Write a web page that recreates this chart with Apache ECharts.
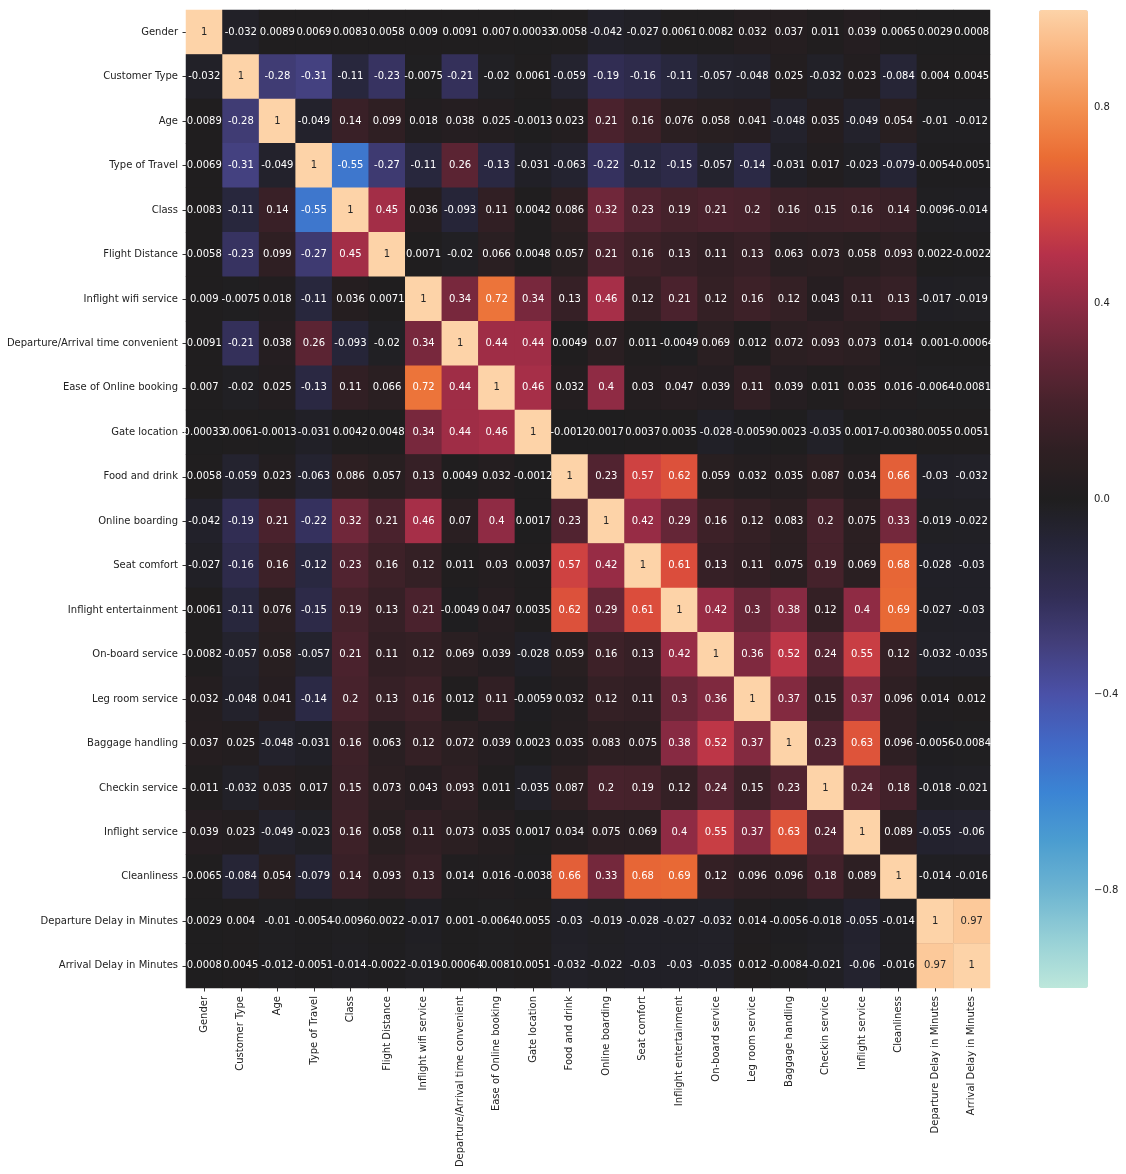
<!DOCTYPE html>
<html>
<head>
<meta charset="utf-8">
<script src="https://cdn.jsdelivr.net/npm/echarts@6/dist/echarts.min.js"></script>
<style>
  html, body { margin: 0; padding: 0; background: #fff; }
  #chart { width: 1126px; height: 1174px; }
</style>
</head>
<body>
<div id="chart"></div>
<script>
// features, same order on both axes
var features = ['Gender', 'Customer Type', 'Age', 'Type of Travel', 'Class', 'Flight Distance',
  'Inflight wifi service', 'Departure/Arrival time convenient', 'Ease of Online booking',
  'Gate location', 'Food and drink', 'Online boarding', 'Seat comfort', 'Inflight entertainment',
  'On-board service', 'Leg room service', 'Baggage handling', 'Checkin service',
  'Inflight service', 'Cleanliness', 'Departure Delay in Minutes', 'Arrival Delay in Minutes'];

// correlation matrix, one row per feature
var corr = [
  [1, -0.032, 0.0089, 0.0069, 0.0083, 0.0058, 0.009, 0.0091, 0.007, 0.00033, 0.0058, -0.042, -0.027, 0.0061, 0.0082, 0.032, 0.037, 0.011, 0.039, 0.0065, 0.0029, 0.0008],
  [-0.032, 1, -0.28, -0.31, -0.11, -0.23, -0.0075, -0.21, -0.02, 0.0061, -0.059, -0.19, -0.16, -0.11, -0.057, -0.048, 0.025, -0.032, 0.023, -0.084, 0.004, 0.0045],
  [0.0089, -0.28, 1, -0.049, 0.14, 0.099, 0.018, 0.038, 0.025, -0.0013, 0.023, 0.21, 0.16, 0.076, 0.058, 0.041, -0.048, 0.035, -0.049, 0.054, -0.01, -0.012],
  [0.0069, -0.31, -0.049, 1, -0.55, -0.27, -0.11, 0.26, -0.13, -0.031, -0.063, -0.22, -0.12, -0.15, -0.057, -0.14, -0.031, 0.017, -0.023, -0.079, -0.0054, -0.0051],
  [0.0083, -0.11, 0.14, -0.55, 1, 0.45, 0.036, -0.093, 0.11, 0.0042, 0.086, 0.32, 0.23, 0.19, 0.21, 0.2, 0.16, 0.15, 0.16, 0.14, -0.0096, -0.014],
  [0.0058, -0.23, 0.099, -0.27, 0.45, 1, 0.0071, -0.02, 0.066, 0.0048, 0.057, 0.21, 0.16, 0.13, 0.11, 0.13, 0.063, 0.073, 0.058, 0.093, 0.0022, -0.0022],
  [0.009, -0.0075, 0.018, -0.11, 0.036, 0.0071, 1, 0.34, 0.72, 0.34, 0.13, 0.46, 0.12, 0.21, 0.12, 0.16, 0.12, 0.043, 0.11, 0.13, -0.017, -0.019],
  [0.0091, -0.21, 0.038, 0.26, -0.093, -0.02, 0.34, 1, 0.44, 0.44, 0.0049, 0.07, 0.011, -0.0049, 0.069, 0.012, 0.072, 0.093, 0.073, 0.014, 0.001, -0.00064],
  [0.007, -0.02, 0.025, -0.13, 0.11, 0.066, 0.72, 0.44, 1, 0.46, 0.032, 0.4, 0.03, 0.047, 0.039, 0.11, 0.039, 0.011, 0.035, 0.016, -0.0064, -0.0081],
  [0.00033, 0.0061, -0.0013, -0.031, 0.0042, 0.0048, 0.34, 0.44, 0.46, 1, -0.0012, 0.0017, 0.0037, 0.0035, -0.028, -0.0059, 0.0023, -0.035, 0.0017, -0.0038, 0.0055, 0.0051],
  [0.0058, -0.059, 0.023, -0.063, 0.086, 0.057, 0.13, 0.0049, 0.032, -0.0012, 1, 0.23, 0.57, 0.62, 0.059, 0.032, 0.035, 0.087, 0.034, 0.66, -0.03, -0.032],
  [-0.042, -0.19, 0.21, -0.22, 0.32, 0.21, 0.46, 0.07, 0.4, 0.0017, 0.23, 1, 0.42, 0.29, 0.16, 0.12, 0.083, 0.2, 0.075, 0.33, -0.019, -0.022],
  [-0.027, -0.16, 0.16, -0.12, 0.23, 0.16, 0.12, 0.011, 0.03, 0.0037, 0.57, 0.42, 1, 0.61, 0.13, 0.11, 0.075, 0.19, 0.069, 0.68, -0.028, -0.03],
  [0.0061, -0.11, 0.076, -0.15, 0.19, 0.13, 0.21, -0.0049, 0.047, 0.0035, 0.62, 0.29, 0.61, 1, 0.42, 0.3, 0.38, 0.12, 0.4, 0.69, -0.027, -0.03],
  [0.0082, -0.057, 0.058, -0.057, 0.21, 0.11, 0.12, 0.069, 0.039, -0.028, 0.059, 0.16, 0.13, 0.42, 1, 0.36, 0.52, 0.24, 0.55, 0.12, -0.032, -0.035],
  [0.032, -0.048, 0.041, -0.14, 0.2, 0.13, 0.16, 0.012, 0.11, -0.0059, 0.032, 0.12, 0.11, 0.3, 0.36, 1, 0.37, 0.15, 0.37, 0.096, 0.014, 0.012],
  [0.037, 0.025, -0.048, -0.031, 0.16, 0.063, 0.12, 0.072, 0.039, 0.0023, 0.035, 0.083, 0.075, 0.38, 0.52, 0.37, 1, 0.23, 0.63, 0.096, -0.0056, -0.0084],
  [0.011, -0.032, 0.035, 0.017, 0.15, 0.073, 0.043, 0.093, 0.011, -0.035, 0.087, 0.2, 0.19, 0.12, 0.24, 0.15, 0.23, 1, 0.24, 0.18, -0.018, -0.021],
  [0.039, 0.023, -0.049, -0.023, 0.16, 0.058, 0.11, 0.073, 0.035, 0.0017, 0.034, 0.075, 0.069, 0.4, 0.55, 0.37, 0.63, 0.24, 1, 0.089, -0.055, -0.06],
  [0.0065, -0.084, 0.054, -0.079, 0.14, 0.093, 0.13, 0.014, 0.016, -0.0038, 0.66, 0.33, 0.68, 0.69, 0.12, 0.096, 0.096, 0.18, 0.089, 1, -0.014, -0.016],
  [0.0029, 0.004, -0.01, -0.0054, -0.0096, 0.0022, -0.017, 0.001, -0.0064, 0.0055, -0.03, -0.019, -0.028, -0.027, -0.032, 0.014, -0.0056, -0.018, -0.055, -0.014, 1, 0.97],
  [0.0008, 0.0045, -0.012, -0.0051, -0.014, -0.0022, -0.019, -0.00064, -0.0081, 0.0051, -0.032, -0.022, -0.03, -0.03, -0.035, 0.012, -0.0084, -0.021, -0.06, -0.016, 0.97, 1]
];

// colorbar ticks
var cbarTicks = [-0.8, -0.4, 0, 0.4, 0.8];

// icefire-like colormap, -1 .. 1 in steps of 0.1
var icefire = ['#bde7db', '#96d0d6', '#6db4d1', '#4b9dd0', '#3b84d4', '#4169c6', '#4a51a8',
  '#433f7c', '#322e56', '#27263a', '#1f1e1f', '#2f1f23', '#47222c', '#682638', '#8f2b44',
  '#b6314a', '#d94a3d', '#ea6d34', '#f39050', '#f9b17b', '#fdd3a8'];

var font = 'DejaVu Sans';

var cells = [];
corr.forEach(function (row, y) {
  row.forEach(function (v, x) {
    cells.push({
      value: [x, y, v],
      label: { color: v > 0.85 ? '#262626' : '#ffffff' }
    });
  });
});

var chart = echarts.init(document.getElementById('chart'));
chart.setOption({
  backgroundColor: '#fff',
  animation: false,
  grid: [
    // dark backdrop hides the hairline seams between cells
    { left: 186, top: 10, width: 804, height: 978, show: true, backgroundColor: '#201e20', borderWidth: 0 },
    { left: 1039, top: 10, width: 49, height: 978 }
  ],
  xAxis: [{
    gridIndex: 0,
    type: 'category',
    data: features,
    axisLine: { show: false },
    axisTick: { show: true, alignWithLabel: true, length: 3.5, lineStyle: { color: '#333' } },
    axisLabel: { rotate: 90, margin: 8, fontSize: 10, fontFamily: font, color: '#222', interval: 0 },
    splitLine: { show: false }
  }, {
    gridIndex: 1,
    type: 'value',
    show: false,
    min: 0,
    max: 1
  }],
  yAxis: [{
    gridIndex: 0,
    type: 'category',
    data: features,
    inverse: true,
    axisLine: { show: false },
    axisTick: { show: true, alignWithLabel: true, length: 3.5, lineStyle: { color: '#333' } },
    axisLabel: { margin: 8, fontSize: 10, fontFamily: font, color: '#222', interval: 0 },
    splitLine: { show: false }
  }, {
    gridIndex: 1,
    type: 'value',
    position: 'right',
    min: -1,
    max: 1,
    axisLine: { show: false },
    axisTick: { show: true, length: 3.5, lineStyle: { color: '#333' }, customValues: cbarTicks },
    axisLabel: {
      margin: 6, fontSize: 10, fontFamily: font, color: '#222',
      customValues: cbarTicks,
      formatter: function (v) { return v.toFixed(1).replace('-', '\u2212'); }
    },
    splitLine: { show: false }
  }],
  visualMap: {
    type: 'continuous',
    seriesIndex: 0,
    min: -1,
    max: 1,
    calculable: false,
    orient: 'vertical',
    left: 1039,
    top: 10,
    padding: 0,
    itemWidth: 49,
    itemHeight: 978,
    inRange: { color: icefire }
  },
  series: [{
    type: 'heatmap',
    xAxisIndex: 0,
    yAxisIndex: 0,
    data: cells,
    itemStyle: { borderWidth: 0 },
    label: {
      show: true,
      fontSize: 10,
      fontFamily: font,
      formatter: function (p) { return String(p.value[2]); }
    }
  }, {
    type: 'scatter',
    xAxisIndex: 1,
    yAxisIndex: 1,
    data: [],
    silent: true
  }]
});
</script>
</body>
</html>
